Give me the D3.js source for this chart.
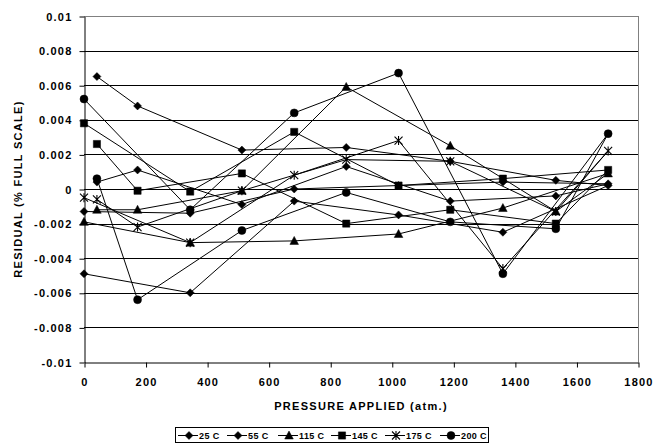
<!DOCTYPE html>
<html>
<head>
<meta charset="utf-8">
<script src="https://cdn.jsdelivr.net/npm/d3@7"></script>
<style>
  body { margin: 0; background: #fff; }
  text { font-family: Arial, "Liberation Sans", sans-serif; font-weight: bold; fill: #000; }
  .tick text { font-size: 11px; letter-spacing: 1.2px; }
</style>
</head>
<body>
<script>
// Pressure order in which the points were taken (up in big steps, then down)
var pressures = [0, 345, 683, 1022, 1361, 1703, 1533, 1190, 852, 513, 174, 42];

// Residuals (% full scale) per temperature, same order as pressures
var res25 = [-0.0049, -0.0060, -0.0007, -0.0015, -0.0025, 0.0002, 0.0005, 0.0016, 0.0024, 0.00225, 0.0048, 0.0065];
var res55 = [-0.0013, -0.0014, 0.0000, 0.0002, 0.0004, 0.0003, -0.0004, -0.0007, 0.0013, -0.0009, 0.0011, 0.0004];
var res115 = [-0.0019, -0.0031, -0.0030, -0.0026, -0.0011, 0.0009, -0.0013, 0.0025, 0.0059, -0.0001, -0.0012, -0.0012];
var res145 = [0.0038, -0.00015, 0.0033, 0.0002, 0.0006, 0.0011, -0.0020, -0.0012, -0.0020, 0.0009, -0.0001, 0.0026];
var res175 = [-0.0005, -0.0031, 0.0008, 0.0028, -0.0046, 0.0022, -0.0013, 0.0016, 0.0017, -0.0001, -0.0022, -0.0006];
var res200 = [0.0052, -0.0012, 0.0044, 0.0067, -0.0049, 0.0032, -0.0023, -0.0019, -0.0002, -0.0024, -0.0064, 0.0006];

var seriesNames = ["25 C", "55 C", "115 C", "145 C", "175 C", "200 C"];
var seriesValues = [res25, res55, res115, res145, res175, res200];
var seriesMarkers = ["diamond", "diamond", "triangle", "square", "asterisk", "circle"];

var xTicks = [0, 200, 400, 600, 800, 1000, 1200, 1400, 1600, 1800];
var yTicks = [-0.01, -0.008, -0.006, -0.004, -0.002, 0, 0.002, 0.004, 0.006, 0.008, 0.01];

var width = 669;
var height = 444;
var plotLeft = 84, plotRight = 638, plotTop = 16, plotBottom = 362;

var svg = d3.select("body")
            .append("svg")
            .attr("width", width)
            .attr("height", height);

// Scales
var scaleX = d3.scaleLinear().domain([0, 1800]).range([plotLeft, plotRight]);
var scaleY = d3.scaleLinear().domain([-0.01, 0.01]).range([plotBottom, plotTop]);

// Gridlines
svg.append("g")
   .selectAll("line")
   .data(yTicks.slice(1))
   .enter()
   .append("line")
   .attr("x1", plotLeft)
   .attr("x2", plotRight)
   .attr("y1", function(d) { return Math.round(scaleY(d)) + 0.5; })
   .attr("y2", function(d) { return Math.round(scaleY(d)) + 0.5; })
   .attr("stroke", function(d) { return d == 0.01 ? "#808080" : "#000"; })
   .attr("stroke-width", 1);

// Right border of plot area
svg.append("line")
   .attr("x1", plotRight + 0.5).attr("x2", plotRight + 0.5)
   .attr("y1", plotTop).attr("y2", plotBottom)
   .attr("stroke", "#808080");

// Axes
var yAxis = d3.axisLeft(scaleY)
              .tickValues(yTicks)
              .tickFormat(function(d) { return d == 0 ? "0" : String(+d.toFixed(3)); })
              .tickSizeInner(5)
              .tickSizeOuter(0)
              .tickPadding(7);
svg.append("g")
   .attr("transform", "translate(" + (plotLeft + 0.5) + ",0.5)")
   .call(yAxis);

var xAxis = d3.axisBottom(scaleX)
              .tickValues(xTicks)
              .tickFormat(d3.format("d"))
              .tickSizeInner(5)
              .tickSizeOuter(0)
              .tickPadding(11);
svg.append("g")
   .attr("transform", "translate(0.5," + (plotBottom + 0.5) + ")")
   .call(xAxis);

svg.selectAll(".domain").attr("stroke", "#000");
svg.selectAll(".tick line").attr("stroke", "#000");

// Marker shapes
function markerPath(kind) {
  if (kind == "diamond") return "M0,-4L4,0L0,4L-4,0Z";
  if (kind == "triangle") return "M0,-4.5L4.3,3.5L-4.3,3.5Z";
  if (kind == "square") return "M-3.6,-3.6L3.6,-3.6L3.6,3.6L-3.6,3.6Z";
  if (kind == "circle") return d3.symbol().type(d3.symbolCircle).size(50)();
  return "M-4,-4L4,4M-4,4L4,-4M0,-4.5L0,4.5";
}

function drawMarker(g, kind, x, y) {
  g.append("path")
   .attr("d", markerPath(kind))
   .attr("transform", "translate(" + x + "," + y + ")")
   .attr("fill", kind == "asterisk" ? "none" : "#000")
   .attr("stroke", "#000")
   .attr("stroke-width", kind == "asterisk" ? 1.1 : 0.5);
}

// Series lines and markers
var line = d3.line()
             .x(function(d, i) { return scaleX(pressures[i]); })
             .y(function(d) { return scaleY(d); });

var plot = svg.append("g");
seriesValues.forEach(function(vals, s) {
  plot.append("path")
      .attr("d", line(vals))
      .attr("fill", "none")
      .attr("stroke", "#000")
      .attr("stroke-width", 1);
});
seriesValues.forEach(function(vals, s) {
  vals.forEach(function(v, i) {
    drawMarker(plot, seriesMarkers[s], scaleX(pressures[i]), scaleY(v));
  });
});

// Axis titles
svg.append("text")
   .text("PRESSURE APPLIED (atm.)")
   .attr("x", (plotLeft + plotRight) / 2)
   .attr("y", 410)
   .attr("text-anchor", "middle")
   .style("font-size", "11px")
   .style("letter-spacing", "1.3px");

svg.append("text")
   .text("RESIDUAL (% FULL SCALE)")
   .attr("transform", "translate(22," + ((plotTop + plotBottom) / 2) + ") rotate(-90)")
   .attr("text-anchor", "middle")
   .style("font-size", "11px")
   .style("letter-spacing", "1.3px");

// Legend
var legend = svg.append("g");
legend.append("rect")
      .attr("x", 175.5).attr("y", 427.5)
      .attr("width", 313).attr("height", 15)
      .attr("fill", "#fff")
      .attr("stroke", "#000");

var legendX = [178, 227, 278, 331, 385, 440];
seriesNames.forEach(function(name, s) {
  var x0 = legendX[s];
  legend.append("line")
        .attr("x1", x0).attr("x2", x0 + 20)
        .attr("y1", 435.5).attr("y2", 435.5)
        .attr("stroke", "#000");
  drawMarker(legend, seriesMarkers[s], x0 + 11, 435.5);
  legend.append("text")
        .text(name)
        .attr("x", x0 + 21)
        .attr("y", 439)
        .style("font-size", "9px")
        .style("letter-spacing", "0.4px");
});
</script>
</body>
</html>
